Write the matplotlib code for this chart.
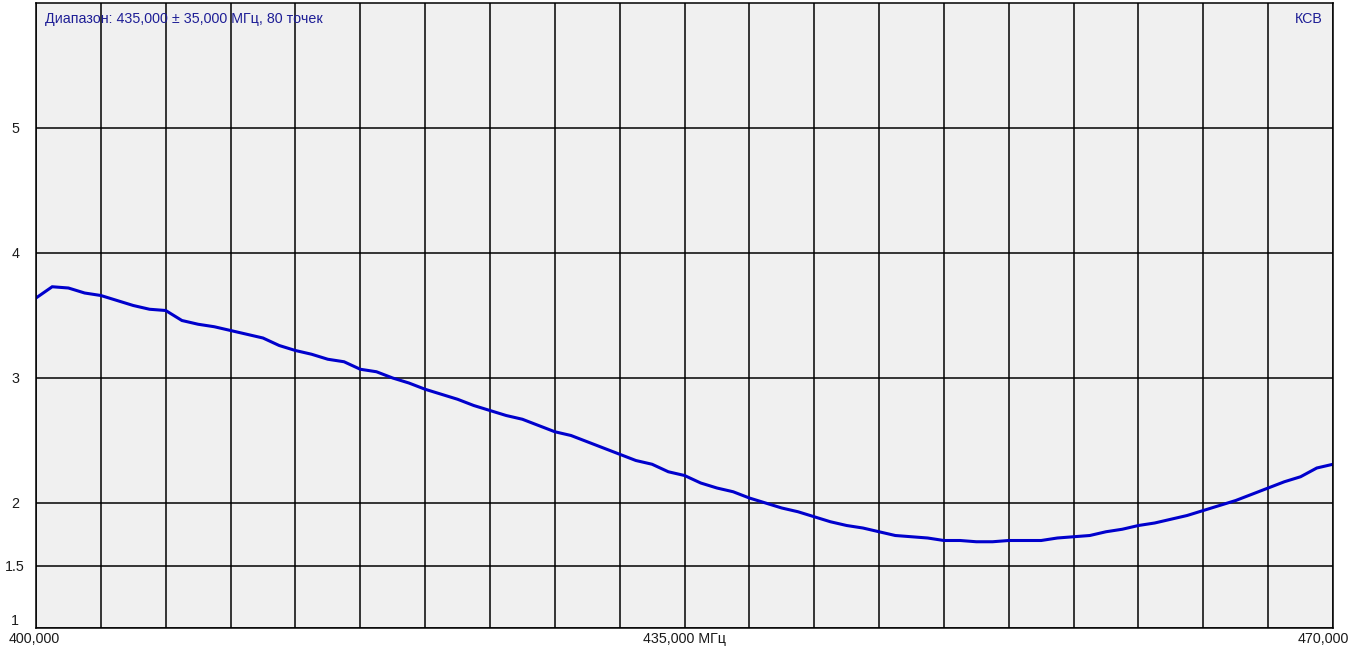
"""VSWR sweep plot, 400-470 MHz."""
import matplotlib
matplotlib.use("Agg")
import matplotlib.pyplot as plt
import matplotlib.transforms as mtransforms
import numpy as np

FREQ_START = 400.0
FREQ_STOP = 470.0
# VSWR at equal frequency steps
vswr = [
    3.64, 3.73, 3.72, 3.68, 3.66, 3.62, 3.58, 3.55, 3.54, 3.46,
    3.43, 3.41, 3.38, 3.35, 3.32, 3.26, 3.22, 3.19, 3.15, 3.13,
    3.07, 3.05, 3.00, 2.96, 2.91, 2.87, 2.83, 2.78, 2.74, 2.70,
    2.67, 2.62, 2.57, 2.54, 2.49, 2.44, 2.39, 2.34, 2.31, 2.25,
    2.22, 2.16, 2.12, 2.09, 2.04, 2.00, 1.96, 1.93, 1.89, 1.85,
    1.82, 1.80, 1.77, 1.74, 1.73, 1.72, 1.70, 1.70, 1.69, 1.69,
    1.70, 1.70, 1.70, 1.72, 1.73, 1.74, 1.77, 1.79, 1.82, 1.84,
    1.87, 1.90, 1.94, 1.98, 2.02, 2.07, 2.12, 2.17, 2.21, 2.28,
    2.31,
]
freq = np.linspace(FREQ_START, FREQ_STOP, len(vswr))

y_ticks = [1, 1.5, 2, 3, 4, 5]
y_tick_labels = ["1", "1.5", "2", "3", "4", "5"]
x_grid = np.linspace(FREQ_START, FREQ_STOP, 21)

header = "Диапазон: 435,000 ± 35,000 МГц, 80 точек"
trace_name = "КСВ"

TRACE = "#0000cc"
TEXT_BLUE = "#1e1e96"
FG = "#1a1a1a"

plt.rcParams.update({
    "font.family": ["Liberation Sans", "DejaVu Sans"],
    "font.size": 10.3,
})

W, H = 1353, 647
fig = plt.figure(figsize=(W / 100, H / 100), dpi=100)
ax = fig.add_axes([36 / W, (H - 628) / H, (1333 - 36) / W, (628 - 3) / H])
ax.set_facecolor("#f0f0f0")

ax.plot(freq, vswr, color=TRACE, linewidth=2.2, solid_joinstyle="miter")

ax.set_xlim(FREQ_START, FREQ_STOP)
ax.set_ylim(1, 6)
ax.set_xticks(x_grid)
ax.set_xticklabels([])
ax.set_yticks(y_ticks)
ax.set_yticklabels(y_tick_labels, ha="center", color=FG)
ax.get_yticklabels()[0].set_va("bottom")
ax.tick_params(axis="both", length=0)
ax.tick_params(axis="y", pad=15)
ax.grid(True, color="black", linewidth=1.1)
ax.set_axisbelow(True)
for s in ax.spines.values():
    s.set_color("black")
    s.set_linewidth(1.1)

# frequency labels under the axis
xt = mtransforms.blended_transform_factory(ax.transData, ax.transAxes)
ax.text(FREQ_START, 0, "400,000", ha="left", va="top", color=FG,
        transform=mtransforms.offset_copy(xt, fig=fig, x=-27, y=-4, units="dots"))
ax.text((FREQ_START + FREQ_STOP) / 2, 0, "435,000 МГц", ha="center", va="top",
        color=FG, transform=mtransforms.offset_copy(xt, fig=fig, y=-4, units="dots"))
ax.text(FREQ_STOP, 0, "470,000", ha="right", va="top", color=FG,
        transform=mtransforms.offset_copy(xt, fig=fig, x=16, y=-4, units="dots"))

ax.text(0.007, 0.985, header, ha="left", va="top", color=TEXT_BLUE,
        transform=ax.transAxes)
ax.text(0.992, 0.985, trace_name, ha="right", va="top", color=TEXT_BLUE,
        transform=ax.transAxes)

fig.savefig("out.png", dpi=100, facecolor="white")
